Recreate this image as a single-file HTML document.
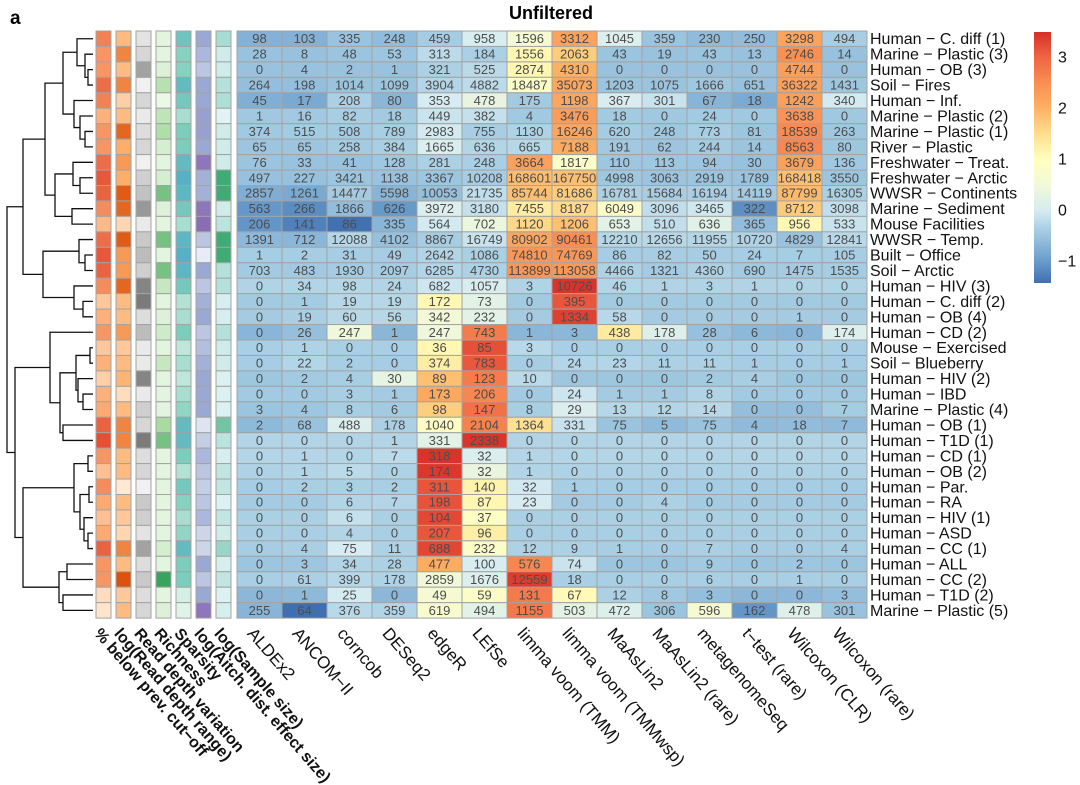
<!DOCTYPE html>
<html><head><meta charset="utf-8"><style>
html,body{margin:0;padding:0;background:#fff;}
svg{display:block;font-family:"Liberation Sans",Arial,sans-serif;}
</style></head><body>
<svg id="chart" width="1080" height="785" viewBox="0 0 1080 785" xmlns="http://www.w3.org/2000/svg">
<defs>
<linearGradient id="lg" x1="0" y1="1" x2="0" y2="0">
<stop offset="0" stop-color="#3f6fb0"/><stop offset="0.087" stop-color="#6a9ccb"/><stop offset="0.21" stop-color="#a6cde3"/><stop offset="0.29" stop-color="#d6ecf2"/><stop offset="0.39" stop-color="#f2f9d8"/><stop offset="0.49" stop-color="#ffffbf"/><stop offset="0.59" stop-color="#fee090"/><stop offset="0.7" stop-color="#fdb063"/><stop offset="0.8" stop-color="#f98d52"/><stop offset="0.9" stop-color="#ef6443"/><stop offset="1" stop-color="#d73027"/>
</linearGradient>
</defs>
<text x="10" y="24" font-size="19" font-weight="bold">a</text>
<text x="551" y="19" font-size="18" font-weight="bold" text-anchor="middle">Unfiltered</text>
<g id="dendro"></g>
<g id="anno"></g>
<g id="cells"></g>
<g id="rowlab"></g>
<g id="collab"></g>
<g id="legend"></g>
</svg>
<script>
const methods = ["ALDEx2","ANCOM−II","corncob","DESeq2","edgeR","LEfSe","limma voom (TMM)","limma voom (TMMwsp)","MaAsLin2","MaAsLin2 (rare)","metagenomeSeq","t−test (rare)","Wilcoxon (CLR)","Wilcoxon (rare)"];
const datasets = ["Human − C. diff (1)","Marine − Plastic (3)","Human − OB (3)","Soil − Fires","Human − Inf.","Marine − Plastic (2)","Marine − Plastic (1)","River − Plastic","Freshwater − Treat.","Freshwater − Arctic","WWSR − Continents","Marine − Sediment","Mouse Facilities","WWSR − Temp.","Built − Office","Soil − Arctic","Human − HIV (3)","Human − C. diff (2)","Human − OB (4)","Human − CD (2)","Mouse − Exercised","Soil − Blueberry","Human − HIV (2)","Human − IBD","Marine − Plastic (4)","Human − OB (1)","Human − T1D (1)","Human − CD (1)","Human − OB (2)","Human − Par.","Human − RA","Human − HIV (1)","Human − ASD","Human − CC (1)","Human − ALL","Human − CC (2)","Human − T1D (2)","Marine − Plastic (5)"];
const counts = [
[98,103,335,248,459,958,1596,3312,1045,359,230,250,3298,494],
[28,8,48,53,313,184,1556,2063,43,19,43,13,2746,14],
[0,4,2,1,321,525,2874,4310,0,0,0,0,4744,0],
[264,198,1014,1099,3904,4882,18487,35073,1203,1075,1666,651,36322,1431],
[45,17,208,80,353,478,175,1198,367,301,67,18,1242,340],
[1,16,82,18,449,382,4,3476,18,0,24,0,3638,0],
[374,515,508,789,2983,755,1130,16246,620,248,773,81,18539,263],
[65,65,258,384,1665,636,665,7188,191,62,244,14,8563,80],
[76,33,41,128,281,248,3664,1817,110,113,94,30,3679,136],
[497,227,3421,1138,3367,10208,168601,167750,4998,3063,2919,1789,168418,3550],
[2857,1261,14477,5598,10053,21735,85744,81686,16781,15684,16194,14119,87799,16305],
[563,266,1866,626,3972,3180,7455,8187,6049,3096,3465,322,8712,3098],
[206,141,86,335,564,702,1120,1206,653,510,636,365,956,533],
[1391,712,12088,4102,8867,16749,80902,90461,12210,12656,11955,10720,4829,12841],
[1,2,31,49,2642,1086,74810,74769,86,82,50,24,7,105],
[703,483,1930,2097,6285,4730,113899,113058,4466,1321,4360,690,1475,1535],
[0,34,98,24,682,1057,3,10726,46,1,3,1,0,0],
[0,1,19,19,172,73,0,395,0,0,0,0,0,0],
[0,19,60,56,342,232,0,1334,58,0,0,0,1,0],
[0,26,247,1,247,743,1,3,438,178,28,6,0,174],
[0,1,0,0,36,85,3,0,0,0,0,0,0,0],
[0,22,2,0,374,783,0,24,23,11,11,1,0,1],
[0,2,4,30,89,123,10,0,0,0,2,4,0,0],
[0,0,3,1,173,206,0,24,1,1,8,0,0,0],
[3,4,8,6,98,147,8,29,13,12,14,0,0,7],
[2,68,488,178,1040,2104,1364,331,75,5,75,4,18,7],
[0,0,0,1,331,2338,0,0,0,0,0,0,0,0],
[0,1,0,7,318,32,1,0,0,0,0,0,0,0],
[0,1,5,0,174,32,1,0,0,0,0,0,0,0],
[0,2,3,2,311,140,32,1,0,0,0,0,0,0],
[0,0,6,7,198,87,23,0,0,4,0,0,0,0],
[0,0,6,0,104,37,0,0,0,0,0,0,0,0],
[0,0,4,0,207,96,0,0,0,0,0,0,0,0],
[0,4,75,11,688,232,12,9,1,0,7,0,0,4],
[0,3,34,28,477,100,576,74,0,0,9,0,2,0],
[0,61,399,178,2859,1676,12559,18,0,0,6,0,1,0],
[0,1,25,0,49,59,131,67,12,8,3,0,0,3],
[255,64,376,359,619,494,1155,503,472,306,596,162,478,301]];
const annoNames = ["% below prev. cut−off","log(Read depth range)","Read depth variation","Richness","Sparsity","log(Aitch. dist. effect size)","log(Sample size)"];
const annoPctBelow = [.7,.6,.6,.8,.7,.45,.6,.6,.8,.9,.85,.65,.4,.8,.9,.85,.65,.3,.45,.6,.3,.45,.25,.45,.5,.85,.95,.6,.35,.65,.5,.35,.5,.85,.6,.6,.15,.1];
const annoDepthRange = [.4,.7,.4,.7,.25,.4,.85,.5,.6,.5,.9,.85,.2,.9,.6,.6,.85,.4,.4,.6,.3,.4,.45,.15,.4,.7,.7,.4,.4,.05,.4,.3,.2,.7,.4,.95,.3,.4];
const annoDepthVar = [.15,.25,.6,.05,.25,.1,.2,.25,.05,.3,.4,.65,.1,.35,.45,.3,.75,.8,.2,.45,.1,.1,.75,.1,.3,.25,.8,.2,.25,.05,.35,.3,.15,.6,.2,.35,.2,.25];
const annoRichness = [.1,.1,.15,.4,.05,.35,.45,.2,.1,.2,.7,.15,.1,.7,.1,.7,.3,.1,.15,.25,.1,.3,.1,.1,.1,.5,.7,.1,.1,.1,.1,.1,.1,.2,.1,.95,.1,.15];
const annoSparsity = [.6,.45,.45,.7,.55,.3,.5,.5,.7,.8,.75,.55,.3,.75,.8,.75,.55,.25,.3,.5,.2,.3,.2,.3,.4,.7,.7,.5,.25,.55,.45,.3,.4,.7,.5,.5,.1,.05];
const annoAitch = [.5,.4,.3,.5,.5,.55,.55,.5,.8,.45,.45,.8,.85,.3,.05,.5,.3,.45,.5,.3,.35,.45,.5,.5,.5,.1,.25,.4,.3,.25,.3,.4,.2,.2,.5,.3,.5,.8];
const annoSampleSize = [.5,.2,.2,.4,.45,.05,.2,.2,.2,.9,.9,.2,.35,.9,.9,.4,.4,.15,.15,.4,.2,.2,.1,.1,.1,.7,.35,.15,.3,.3,.1,.3,.2,.55,.15,.3,.1,.15];
const legendTicks = [3,2,1,0,-1];
// dendrogram: [joinX, left, right], leaves are row indices
const tree = [7,
  [23,
    [45,
      [63,[77,0,[85,1,[88,2,3]]],[74,4,[80,5,[85,6,7]]]],
      [55,[73,8,[80,9,10]],[72,11,12]]],
    [43,[79,13,[85,14,15]],[74,16,[83,17,18]]]],
  [15,
    [50,19,[60,[76,[90,20,21],[78,22,[83,23,24]]],[63,25,26]]],
    [23,
      [74,[88,27,28],[80,[89,29,30],[84,31,[88,32,33]]]],
      [59,[67,34,35],[63,36,37]]]]];

const NS="http://www.w3.org/2000/svg";
const X0=237, CW=45, Y0=31, RH=15.45, NR=datasets.length, NC=methods.length;
const xS=c=>X0+c*CW, yS=r=>Y0+r*RH;
const LT=32, LB=283, LMAX=3.49, LMIN=-1.43;
const lY=v=>LB-(v-LMIN)/(LMAX-LMIN)*(LB-LT);
function mk(tag,attrs,parent){const e=document.createElementNS(NS,tag);for(const k in attrs)e.setAttribute(k,attrs[k]);parent.appendChild(e);return e;}
function hex(h){return [1,3,5].map(i=>parseInt(h.substr(i,2),16));}
function mix(a,b,t){const A=hex(a),B=hex(b);return "rgb("+A.map((v,i)=>Math.round(v+(B[i]-v)*t)).join(",")+")";}
function ramp3(r,t){return t<0.5?mix(r[0],r[1],t*2):mix(r[1],r[2],(t-0.5)*2);}
const stops=[[-1.43,"#3f6fb0"],[-1,"#6a9ccb"],[-0.4,"#a6cde3"],[0,"#d6ecf2"],[0.5,"#f2f9d8"],[1,"#ffffbf"],[1.5,"#fee090"],[2,"#fdb063"],[2.5,"#f98d52"],[3,"#ef6443"],[3.49,"#d73027"]];
function zcol(z){if(z<=stops[0][0])return stops[0][1];for(let i=1;i<stops.length;i++){if(z<=stops[i][0]){const t=(z-stops[i-1][0])/(stops[i][0]-stops[i-1][0]);return mix(stops[i-1][1],stops[i][1],t);}}return stops[stops.length-1][1];}

const cells=document.getElementById('cells');
counts.forEach((row,r)=>{
  const m=row.reduce((a,b)=>a+b,0)/row.length;
  const sd=Math.sqrt(row.reduce((a,b)=>a+(b-m)*(b-m),0)/(row.length-1))||1;
  row.forEach((v,c)=>{
    const z=(v-m)/sd;
    const rc=mk('rect',{x:xS(c),y:yS(r),width:CW,height:RH,fill:zcol(z),stroke:"#a3a3a3","stroke-width":1},cells);
    
    
    const t=mk('text',{x:xS(c)+CW/2,y:yS(r)+RH/2+4.5,"font-size":13,"text-anchor":"middle",fill:"#4d4d4d"},cells);
    t.textContent=v;
    
    
  });
});
const rl=document.getElementById('rowlab');
datasets.forEach((d,r)=>{
  const t=mk('text',{x:870,y:yS(r)+RH/2+5.5,"font-size":16,fill:"#111"},rl);
  t.textContent=d;
  
  
});
const cl=document.getElementById('collab');
methods.forEach((m,c)=>{
  const x=xS(c)+CW/2-13, y=634;
  const t=mk('text',{x:x,y:y,"font-size":17,fill:"#111",transform:`rotate(49 ${x} ${y})`},cl);
  t.textContent=m;
  
  
});
const annoData=[annoPctBelow,annoDepthRange,annoDepthVar,annoRichness,annoSparsity,annoAitch,annoSampleSize];
const ramps=[["#fff3e0","#fcaa72","#e2452c"],["#fff0e0","#fdae6b","#d94801"],["#f7f7f7","#b5b5b5","#555555"],["#f2faef","#a8dba0","#2a9d55"],["#eaf7ef","#7ccdbb","#3d9fcb"],["#f0f3fa","#9aa8d4","#8454a8"],["#eaf6f9","#a6dcd2","#25a05e"]];
const an=document.getElementById('anno');
annoData.forEach((arr,k)=>{
  const ax=96+k*20;
  arr.forEach((v,r)=>{
    const rc=mk('rect',{x:ax,y:yS(r),width:15,height:RH,fill:ramp3(ramps[k],v),stroke:"#a3a3a3","stroke-width":1},an);
    
    
  });
  const x=ax+7.5-10, y=634;
  const t=mk('text',{x:x,y:y,"font-size":16,"font-weight":"bold",fill:"#111",transform:`rotate(49 ${x} ${y})`},an);
  t.textContent=annoNames[k];
  
  
});
const dg=document.getElementById('dendro');
const LEAFX=93;
function draw(n){
  if(typeof n==="number")return {x:LEAFX,y:yS(n)+RH/2};
  const a=draw(n[1]),b=draw(n[2]),x=n[0];
  const p=mk('path',{d:`M${a.x},${a.y}H${x}V${b.y}H${b.x}`,fill:"none",stroke:"#111","stroke-width":1.3},dg);
  
  
  return {x:x,y:(a.y+b.y)/2};
}
draw(tree);
const lg=document.getElementById('legend');
const bar=mk('rect',{x:1034,y:LT,width:17,height:LB-LT,fill:"url(#lg)"},lg);


legendTicks.forEach(v=>{
  const t=mk('text',{x:1058,y:lY(v)+5.5,"font-size":16,fill:"#111"},lg);
  t.textContent=v<0?"−"+Math.abs(v):String(v);
  
  
});
</script>
</body></html>
